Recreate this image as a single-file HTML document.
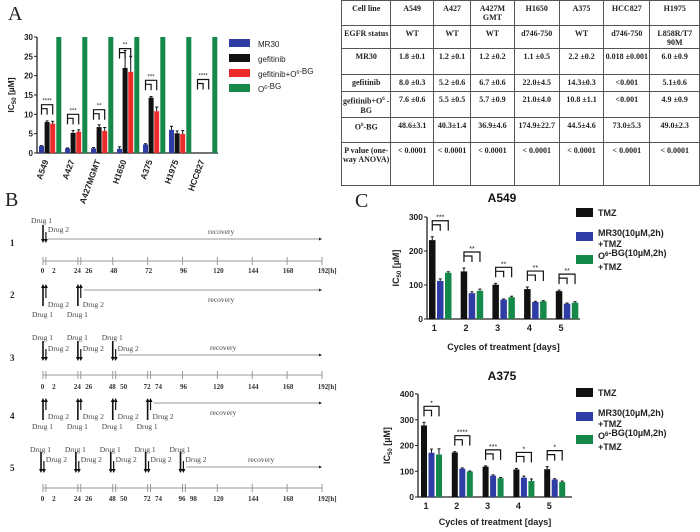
<!DOCTYPE html>
<html><head><meta charset="utf-8"><style>
body{margin:0;background:#fff;}
#wrap{position:relative;width:700px;height:532px;overflow:hidden;background:#fff;}
svg{position:absolute;left:0;top:0;}
table{position:absolute;left:341px;top:0;border-collapse:collapse;font-family:"Liberation Serif",serif;font-weight:bold;font-size:8px;color:#222;}
td{border:1px solid #555;text-align:center;vertical-align:top;padding:3px 1px 0 1px;line-height:9px;}
</style></head><body>
<div id="wrap">
<svg id="svg" width="700" height="532" xmlns="http://www.w3.org/2000/svg" font-family="Liberation Sans, sans-serif">
<text x="8" y="20" font-family="Liberation Serif, serif" font-size="20" fill="#222">A</text>
<text x="5" y="206" font-family="Liberation Serif, serif" font-size="20" fill="#222">B</text>
<text x="355" y="207" font-family="Liberation Serif, serif" font-size="20" fill="#222">C</text>
<g id="chartA"></g>
<g id="panelB"></g>
<g id="chartC1"></g>
<g id="chartC2"></g>
</svg>
<table>
<tr style="height:25px"><td style="width:47px">Cell line</td><td style="width:41px">A549</td><td style="width:35px">A427</td><td style="width:42px">A427M GMT</td><td style="width:43px">H1650</td><td style="width:43px">A375</td><td style="width:45px">HCC827</td><td style="width:48px">H1975</td></tr>
<tr style="height:23px"><td>EGFR status</td><td>WT</td><td>WT</td><td>WT</td><td>d746-750</td><td>WT</td><td>d746-750</td><td>L858R/T7 90M</td></tr>
<tr style="height:26px"><td>MR30</td><td>1.8 ±0.1</td><td>1.2 ±0.1</td><td>1.2 ±0.2</td><td>1.1 ±0.5</td><td>2.2 ±0.2</td><td>0.018 ±0.001</td><td>6.0 ±0.9</td></tr>
<tr style="height:17px"><td>gefitinib</td><td>8.0 ±0.3</td><td>5.2 ±0.6</td><td>6.7 ±0.6</td><td>22.0±4.5</td><td>14.3±0.3</td><td>&lt;0.001</td><td>5.1±0.6</td></tr>
<tr style="height:26px"><td>gefitinib+O<sup style="font-size:5px">6</sup> -BG</td><td>7.6 ±0.6</td><td>5.5 ±0.5</td><td>5.7 ±0.9</td><td>21.0±4.0</td><td>10.8 ±1.1</td><td>&lt;0.001</td><td>4.9 ±0.9</td></tr>
<tr style="height:25px"><td>O<sup style="font-size:5px">6</sup>-BG</td><td>48.6±3.1</td><td>40.3±1.4</td><td>36.9±4.6</td><td>174.9±22.7</td><td>44.5±4.6</td><td>73.0±5.3</td><td>49.0±2.3</td></tr>
<tr style="height:43px"><td>P value (one-way ANOVA)</td><td>&lt; 0.0001</td><td>&lt; 0.0001</td><td>&lt; 0.0001</td><td>&lt; 0.0001</td><td>&lt; 0.0001</td><td>&lt; 0.0001</td><td>&lt; 0.0001</td></tr>
</table>
</div>
<script>
// ---- Chart A data ----
const aCats = ["A549","A427","A427MGMT","H1650","A375","H1975","HCC827"];
const aMR30 = [1.8,1.2,1.2,1.1,2.2,6.0,0.018];
const aGef = [8.0,5.2,6.7,22.0,14.3,5.1,0];
const aGefBG = [7.6,5.5,5.7,21.0,10.8,4.9,0];
const aBG = [48.6,40.3,36.9,174.9,44.5,73.0,49.0];
const aMR30Err = [0.1,0.1,0.2,0.5,0.2,0.9,0];
const aGefErr = [0.3,0.6,0.6,4.5,0.3,0.6,0];
const aGefBGErr = [0.6,0.5,0.9,4.0,1.1,0.9,0];
const aTicks = [0,5,10,15,20,25,30];
const aSeriesNames = ["MR30","gefitinib","gefitinib+O6-BG","O6-BG"];
// ---- Chart C data ----
const cCats = ["1","2","3","4","5"];
const c1TMZ = [232,140,101,88,82];
const c1MR30 = [112,76,57,50,45];
const c1BG = [136,83,64,52,48];
const c1TMZErr = [10,10,4,6,3];
const c1MR30Err = [6,4,2,2,2];
const c1BGErr = [3,5,3,2,3];
const c1Ticks = [0,100,200,300];
const c2TMZ = [278,173,118,107,108];
const c2MR30 = [172,110,83,75,68];
const c2BG = [165,99,73,62,58];
const c2TMZErr = [12,3,3,4,10];
const c2MR30Err = [14,3,3,6,3];
const c2BGErr = [22,2,3,8,4];
const c2Ticks = [0,100,200,300,400];

const NS="http://www.w3.org/2000/svg";
function mk(parent,tag,attrs,text){const e=document.createElementNS(NS,tag);for(const k in attrs)e.setAttribute(k,attrs[k]);if(text!==undefined)e.textContent=text;parent.appendChild(e);return e;}
const COL={blue:"#2e3da6",black:"#111",red:"#ee2b2b",green:"#14894a"};

// ===== Chart A =====
(function(){
 const g=document.getElementById("chartA");
 const y0=153,yTop=37,vmax=30,xL=37,xR=218,band=26,bx0=39,bw=5;
 const yA=v=>y0-Math.min(v,vmax)*(y0-yTop)/vmax;
 const xA=(i,j)=>bx0+i*band+j*5.6;
 mk(g,"line",{x1:xL,y1:yTop,x2:xL,y2:y0,stroke:"#222","stroke-width":1.3});
 mk(g,"line",{x1:xL,y1:y0,x2:xR,y2:y0,stroke:"#222","stroke-width":1.3});
 aTicks.forEach(t=>{
  const tk=mk(g,"line",{x1:xL-3,y1:yA(t),x2:xL,y2:yA(t),stroke:"#222"});
  
  
  const lb=mk(g,"text",{x:xL-4,y:yA(t)+3,"font-size":8,"font-weight":"bold","text-anchor":"end",fill:"#222"},t);
  
  
 });
 const yt=mk(g,"text",{x:0,y:0,"font-size":8.5,"font-weight":"bold",fill:"#222","text-anchor":"middle",transform:"translate(14,95) rotate(-90)"});
 yt.innerHTML='IC<tspan font-size="6" dy="2">50</tspan><tspan dy="-2"> [µM]</tspan>';
 
 
 const series=[[aMR30,aMR30Err,COL.blue],[aGef,aGefErr,COL.black],[aGefBG,aGefBGErr,COL.red],[aBG,null,COL.green]];
 aCats.forEach((c,i)=>{
  series.forEach((s,j)=>{
   const v=s[0][i];
   const r=mk(g,"rect",{x:xA(i,j)+(j===3?0.5:0),y:yA(v),width:bw,height:y0-yA(v),fill:s[2]});
   
   
   if(s[1]&&v>0.05){const e=s[1][i];const cx=xA(i,j)+bw/2;
    mk(g,"line",{x1:cx,y1:yA(v),x2:cx,y2:yA(v+e),stroke:"#111","stroke-width":1});
    mk(g,"line",{x1:cx-1.5,y1:yA(v+e),x2:cx+1.5,y2:yA(v+e),stroke:"#111","stroke-width":1});}
  });
  const lx=xA(i,1)+4;
  const lb=mk(g,"text",{x:0,y:0,"font-size":8.5,"font-weight":"bold",fill:"#222","text-anchor":"end",transform:`translate(${lx},${y0+8}) rotate(-70)`},c);
  
  
  if(i!==5){
   const top=i===3?yA(27):(i===6?yA(19):yA(Math.max(aGef[i],aGefBG[i])+4.5));
   const xa=xA(i,0)+2.5,xb=xA(i,1)+2.5,xc=xA(i,2)+2.5;
   const p=`M${xa},${top+10}V${top}H${xc}V${top+10}M${xa},${top+10}V${top+4}H${xb}V${top+10}`;
   mk(g,"path",{d:p,fill:"none",stroke:"#111","stroke-width":1.2});
   mk(g,"text",{x:(xa+xc)/2,y:top-2,"font-size":6,"text-anchor":"middle",fill:"#222"},i===3?"**":(i===1||i===4?"***":(i===2?"**":"****")));
  }
 });
 aSeriesNames.forEach((n,j)=>{
  const col=[COL.blue,COL.black,COL.red,COL.green][j];
  const r=mk(g,"rect",{x:229,y:39+j*15,width:21,height:8,fill:col});
  
  
  const t=mk(g,"text",{x:258,y:47+j*15,"font-size":8,fill:"#222"});
  t.innerHTML=n.replace("O6","O<tspan font-size=\"5\" dy=\"-3\">6</tspan><tspan dy=\"3\"></tspan>");
  
  
 });
})();

// ===== Panel B =====
(function(){
 const g=document.getElementById("panelB");
 const hx=h=>43+h*279/192;
 const sf={"font-family":"Liberation Serif, serif","font-size":7.5,fill:"#444"};
 function axis(y,ticks){
  mk(g,"line",{x1:hx(0),y1:y,x2:hx(192),y2:y,stroke:"#999","stroke-width":1});
  ticks.forEach(t=>{mk(g,"line",{x1:hx(t),y1:y-4,x2:hx(t),y2:y+4,stroke:"#999"});});
 }
 function labels(y,ticks){
  ticks.forEach(t=>{const o=(t%24===2)?8:(ticks.includes(t+2)?-0.5:1);
   mk(g,"text",{x:hx(t)+o,y:y,"text-anchor":"middle","font-weight":"bold","font-family":"Liberation Serif, serif","font-size":7,fill:"#333"},t);});
  mk(g,"text",{x:hx(192)+6,y:y,"font-weight":"bold","font-family":"Liberation Serif, serif","font-size":7,fill:"#333"},"[h]");
 }
 function arrow(x,yTail,yTip,w){
  mk(g,"line",{x1:x,y1:yTail,x2:x,y2:yTip+(yTip>yTail?-3:3),stroke:"#111","stroke-width":w});
  const d=yTip>yTail?`M${x-2},${yTip-4}L${x+2},${yTip-4}L${x},${yTip}Z`:`M${x-2},${yTip+4}L${x+2},${yTip+4}L${x},${yTip}Z`;
  mk(g,"path",{d:d,fill:"#111"});
 }
 function rec(x,y,tx,below){mk(g,"line",{x1:x,y1:y,x2:hx(192)-2,y2:y,stroke:"#999","stroke-width":1});mk(g,"path",{d:`M${hx(192)-3},${y-1.5}L${hx(192)},${y}L${hx(192)-3},${y+1.5}Z`,fill:"#222"});mk(g,"text",Object.assign({x:tx,y:y+(below?12:-5)},sf),"recovery");}
 function rowLabel(n,y){mk(g,"text",{x:10,y:y,"font-family":"Liberation Serif, serif","font-size":9,"font-weight":"bold",fill:"#222"},n);}
 rowLabel("1",246);
 arrow(hx(0),225,243,1.6);arrow(hx(2),232,243,1.2);
 mk(g,"text",Object.assign({x:31,y:223},sf),"Drug 1");mk(g,"text",Object.assign({x:hx(2)+2,y:232},sf),"Drug 2");
 rec(hx(2)+2,239,208,false);
 const t1=[0,2,24,26,48,72,96,120,144,168,192];
 axis(261,t1);labels(273,t1);
 rowLabel("2",298);
 [0,24].forEach(h=>{arrow(hx(h),306,284,1.6);arrow(hx(h+2),298,284,1.2);
  mk(g,"text",Object.assign({x:hx(h+2)+2,y:307},sf),"Drug 2");mk(g,"text",Object.assign({x:hx(h)-11,y:317},sf),"Drug 1");});
 rec(hx(26)+3,290,208,true);
 rowLabel("3",361);
 [0,24,48].forEach(h=>{arrow(hx(h),341,361,1.6);arrow(hx(h+2),349,361,1.2);
  mk(g,"text",Object.assign({x:hx(h)-11,y:340},sf),"Drug 1");mk(g,"text",Object.assign({x:hx(h+2)+2,y:351},sf),"Drug 2");});
 rec(hx(50)+3,355,210,false);
 const t3=[0,2,24,26,48,50,72,74,96,120,144,168,192];
 axis(375,t3);labels(389,t3);
 rowLabel("4",419);
 [0,24,48,72].forEach(h=>{arrow(hx(h),420,398,1.6);arrow(hx(h+2),410,398,1.2);
  mk(g,"text",Object.assign({x:hx(h+2)+2,y:419},sf),"Drug 2");mk(g,"text",Object.assign({x:hx(h)-11,y:429},sf),"Drug 1");});
 rec(hx(74)+3,403,210,true);
 rowLabel("5",471);
 [0,24,48,72,96].forEach(h=>{arrow(hx(h)-2,452,473,1.6);arrow(hx(h+2)-2,461,473,1.2);
  mk(g,"text",Object.assign({x:hx(h)-13,y:452},sf),"Drug 1");mk(g,"text",Object.assign({x:hx(h+2),y:462},sf),"Drug 2");});
 rec(hx(98)+1,467,248,false);
 const t5=[0,2,24,26,48,50,72,74,96,98,120,144,168,192];
 axis(488,t5);labels(501,t5);
})();

// ===== Chart C =====
function chartC(id,title,titleY,xL,y0,yTop,vmax,ticks,xR,bx0,band,bw,tmz,mr,bg,te,me,be,legY,xlabY,stars){
 const g=document.getElementById(id);
 const yC=v=>y0-v*(y0-yTop)/vmax;
 const xC=(i,j)=>bx0+i*band+j*(bw+1.5);
 const tt=mk(g,"text",{x:502,y:titleY,"font-size":12,"font-weight":"bold","text-anchor":"middle",fill:"#111"},title);
 
 
 mk(g,"line",{x1:xL,y1:yTop,x2:xL,y2:y0,stroke:"#222","stroke-width":1.3});
 mk(g,"line",{x1:xL,y1:y0,x2:xR,y2:y0,stroke:"#222","stroke-width":1.3});
 ticks.forEach(t=>{
  mk(g,"line",{x1:xL-3,y1:yC(t),x2:xL,y2:yC(t),stroke:"#222"});
  const lb=mk(g,"text",{x:xL-4,y:yC(t)+3,"font-size":8.5,"font-weight":"bold","text-anchor":"end",fill:"#222"},t);
  
  
 });
 const yt=mk(g,"text",{x:0,y:0,"font-size":9,"font-weight":"bold",fill:"#222","text-anchor":"middle",transform:`translate(${xL-28},${(y0+yTop)/2}) rotate(-90)`});
 yt.innerHTML='IC<tspan font-size="6" dy="2">50</tspan><tspan dy="-2"> [µM]</tspan>';
 
 
 const ser=[[tmz,te,COL.black],[mr,me,COL.blue],[bg,be,COL.green]];
 cCats.forEach((c,i)=>{
  ser.forEach((s,j)=>{
   const v=s[0][i];
   const r=mk(g,"rect",{x:xC(i,j),y:yC(v),width:bw,height:y0-yC(v),fill:s[2]});
   
   
   const cx=xC(i,j)+bw/2,e=s[1][i];
   mk(g,"line",{x1:cx,y1:yC(v),x2:cx,y2:yC(v+e),stroke:"#111"});
   mk(g,"line",{x1:cx-1.5,y1:yC(v+e),x2:cx+1.5,y2:yC(v+e),stroke:"#111"});
  });
  const lb=mk(g,"text",{x:xC(i,0)+bw/2+2,y:y0+12,"font-size":9,"font-weight":"bold","text-anchor":"middle",fill:"#222"},c);
  
  
  const top=yC(Math.max(tmz[i]+te[i],mr[i],bg[i]))-16;
  const xa=xC(i,0)+bw/2,xb=xC(i,1)+bw/2,xc=xC(i,2)+bw/2;
  mk(g,"path",{d:`M${xa},${top+10}V${top}H${xc}V${top+10}M${xa},${top+10}V${top+4}H${xb}V${top+10}`,fill:"none",stroke:"#111","stroke-width":1.2});
  mk(g,"text",{x:(xa+xc)/2,y:top-1,"font-size":7,"text-anchor":"middle",fill:"#222"},stars[i]);
 });
 const xl=mk(g,"text",{x:(xL+xR)/2,y:xlabY,"font-size":9,"font-weight":"bold","text-anchor":"middle",fill:"#222"},"Cycles of treatment [days]");
 
 
 const lg=[["TMZ",COL.black,legY],["MR30(10µM,2h)",COL.blue,legY+24],["O6-BG(10µM,2h)",COL.green,legY+47]];
 lg.forEach((l,k)=>{
  const r=mk(g,"rect",{x:576,y:l[2]-7,width:17,height:9,fill:l[1]});
  
  
  const t=mk(g,"text",{x:598,y:l[2]+(k?-3:1),"font-size":9,"font-weight":"bold",fill:"#222"});
  t.innerHTML=l[0].replace("O6","O<tspan font-size=\"6\" dy=\"-3\">6</tspan><tspan dy=\"3\"></tspan>");
  
  
  if(k){mk(g,"text",{x:598,y:l[2]+8,"font-size":9,"font-weight":"bold",fill:"#222"},"+TMZ");}
 });
}
chartC("chartC1","A549",202,427,319,217,300,c1Ticks,580,429,31.7,6.5,c1TMZ,c1MR30,c1BG,c1TMZErr,c1MR30Err,c1BGErr,215,350,["***","**","**","**","**"]);
chartC("chartC2","A375",380,418,497,394,400,c2Ticks,572,421,30.8,6,c2TMZ,c2MR30,c2BG,c2TMZErr,c2MR30Err,c2BGErr,395,525,["*","****","***","*","*"]);
</script>
</body></html>
